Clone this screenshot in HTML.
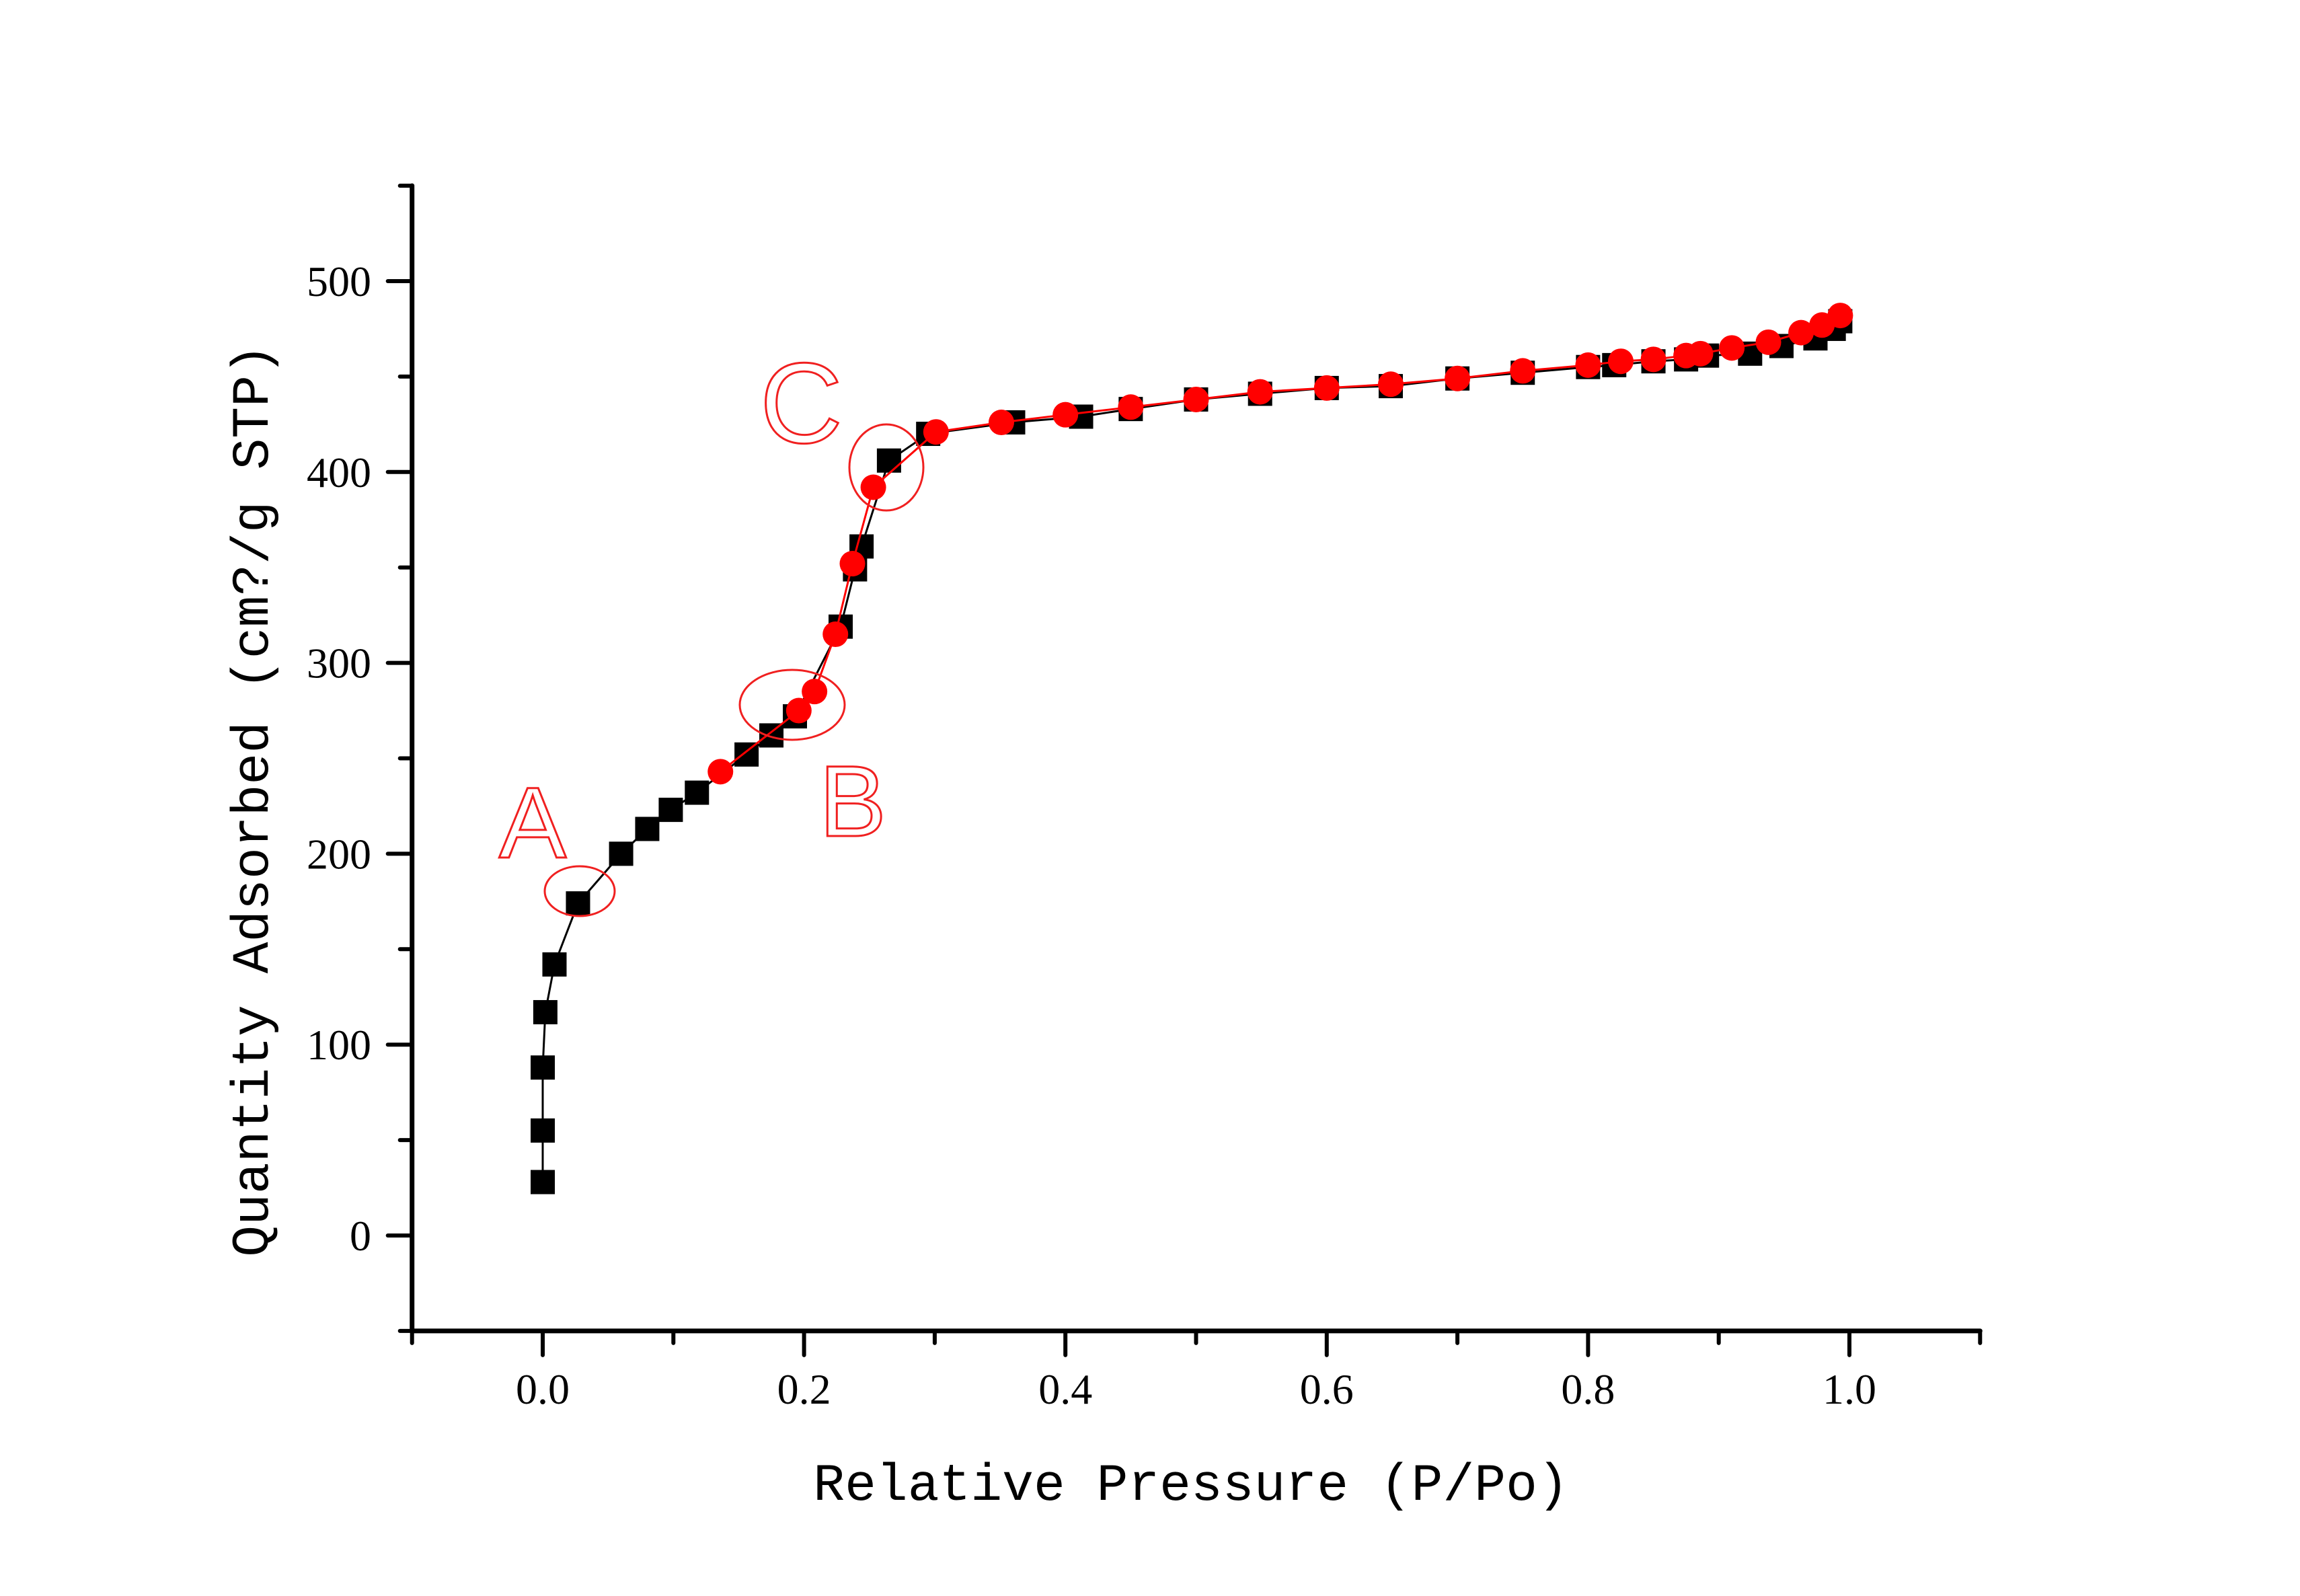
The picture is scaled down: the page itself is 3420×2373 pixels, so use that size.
<!DOCTYPE html>
<html><head><meta charset="utf-8"><style>
html,body{margin:0;padding:0;background:#fff;}
svg{display:block;}
</style></head><body>
<svg id="chart" width="3420" height="2373" viewBox="0 0 3420 2373" xmlns="http://www.w3.org/2000/svg">
<g id="axes"></g>
<g id="series"></g>
<g id="annot" fill="none" stroke="#f02020" stroke-width="3">
  <text x="742" y="1275" font-family="Liberation Sans, sans-serif" font-size="150" stroke="#f02020" stroke-width="3" fill="none">A</text>
  <ellipse cx="862" cy="1325" rx="52" ry="37"/>
  <text x="1218" y="1243" font-family="Liberation Sans, sans-serif" font-size="150" stroke="#f02020" stroke-width="3" fill="none">B</text>
  <ellipse cx="1178" cy="1048" rx="78" ry="52"/>
  <text x="1130" y="658" font-family="Liberation Sans, sans-serif" font-size="170" stroke="#f02020" stroke-width="3" fill="none">C</text>
  <ellipse cx="1318" cy="695" rx="55" ry="64"/>
</g>
</svg>
<script>
const xTicks = [0.0, 0.2, 0.4, 0.6, 0.8, 1.0];
const xTickLabels = ["0.0", "0.2", "0.4", "0.6", "0.8", "1.0"];
const yTicks = [0, 100, 200, 300, 400, 500];
const yTickLabels = ["0", "100", "200", "300", "400", "500"];
const adsX = [0.0,0.0,0.0,0.002,0.009,0.027,0.06,0.08,0.098,0.118,0.156,0.175,0.193,0.228,0.239,0.244,0.265,0.295,0.36,0.412,0.45,0.5,0.549,0.6,0.649,0.7,0.75,0.8,0.82,0.85,0.875,0.891,0.924,0.948,0.974,0.988,0.993];
const adsY = [28,55,88,117,142,174,200,213,223,232,252,262,272,319,349,361,406,420,426,429,433,438,441,444,445,449,452,455,456,458,459,461,462,466,470,475,479];
const desX = [0.993,0.979,0.963,0.938,0.91,0.886,0.875,0.85,0.825,0.8,0.75,0.7,0.649,0.6,0.549,0.5,0.45,0.4,0.351,0.301,0.253,0.237,0.224,0.208,0.196,0.136];
const desY = [482,477,473,468,465,462,461,459,458,456,453,449,446,444,442,438,434,430,426,421,392,352,315,285,275,243];

const NS = "http://www.w3.org/2000/svg";
const X0 = 807, XS = 1943, Y0 = 1837, YS = 2.838;
function px(v){ return X0 + v * XS; }
function py(v){ return Y0 - v * YS; }
function mk(tag, attrs, parent){
  const el = document.createElementNS(NS, tag);
  for (const k in attrs) el.setAttribute(k, attrs[k]);
  parent.appendChild(el);
  return el;
}
const axes = document.getElementById('axes');
const series = document.getElementById('series');
const xL = px(-0.1), xR = px(1.1), yB = py(-50), yT = py(550);

let l = mk('line', {x1:xL, y1:yB, x2:xR, y2:yB, stroke:'#000', 'stroke-width':7, 'stroke-linecap':'round'}, axes);


l = mk('line', {x1:xL, y1:yB, x2:xL, y2:yT, stroke:'#000', 'stroke-width':7, 'stroke-linecap':'round'}, axes);



for (let i = -1; i <= 11; i++) {
  const v = i / 10;
  const major = (i % 2 === 0);
  const t = mk('line', {x1:px(v), y1:yB, x2:px(v), y2:yB + (major ? 36 : 18), stroke:'#000', 'stroke-width':6, 'stroke-linecap':'round'}, axes);
  
  
}
for (let v = -50; v <= 550; v += 50) {
  const major = (v % 100 === 0);
  const t = mk('line', {x1:xL, y1:py(v), x2:xL - (major ? 36 : 18), y2:py(v), stroke:'#000', 'stroke-width':6, 'stroke-linecap':'round'}, axes);
  
  
}
xTicks.forEach((v, i) => {
  const t = mk('text', {x:px(v), y:yB + 108, 'text-anchor':'middle', 'font-family':'Liberation Serif, serif', 'font-size':64, fill:'#000'}, axes);
  t.textContent = xTickLabels[i];
  
  
});
yTicks.forEach((v, i) => {
  const t = mk('text', {x:552, y:py(v) + 22, 'text-anchor':'end', 'font-family':'Liberation Serif, serif', 'font-size':64, fill:'#000'}, axes);
  t.textContent = yTickLabels[i];
  
  
});
let xt = mk('text', {x:1771, y:2230, 'text-anchor':'middle', 'font-family':'Liberation Mono, monospace', 'font-size':78, fill:'#000'}, axes);
xt.textContent = 'Relative Pressure (P/Po)';


let yt = mk('text', {x:0, y:0, 'text-anchor':'middle', 'font-family':'Liberation Mono, monospace', 'font-size':78, fill:'#000', transform:'translate(398,1190) rotate(-90)'}, axes);
yt.textContent = 'Quantity Adsorbed (cm?/g STP)';



// adsorption line + squares
let d = adsX.map((x, i) => (i ? 'L' : 'M') + px(x) + ',' + py(adsY[i])).join(' ');
let p = mk('path', {d:d, fill:'none', stroke:'#000', 'stroke-width':3}, series);


adsX.forEach((x, i) => {
  const r = mk('rect', {x:px(x) - 18, y:py(adsY[i]) - 18, width:36, height:36, fill:'#000'}, series);
  
  
});
// desorption line + circles
d = desX.map((x, i) => (i ? 'L' : 'M') + px(x) + ',' + py(desY[i])).join(' ');
p = mk('path', {d:d, fill:'none', stroke:'#ff0000', 'stroke-width':3}, series);


desX.forEach((x, i) => {
  const c = mk('circle', {cx:px(x), cy:py(desY[i]), r:19, fill:'#ff0000'}, series);
  
  
});
</script>
</body></html>
